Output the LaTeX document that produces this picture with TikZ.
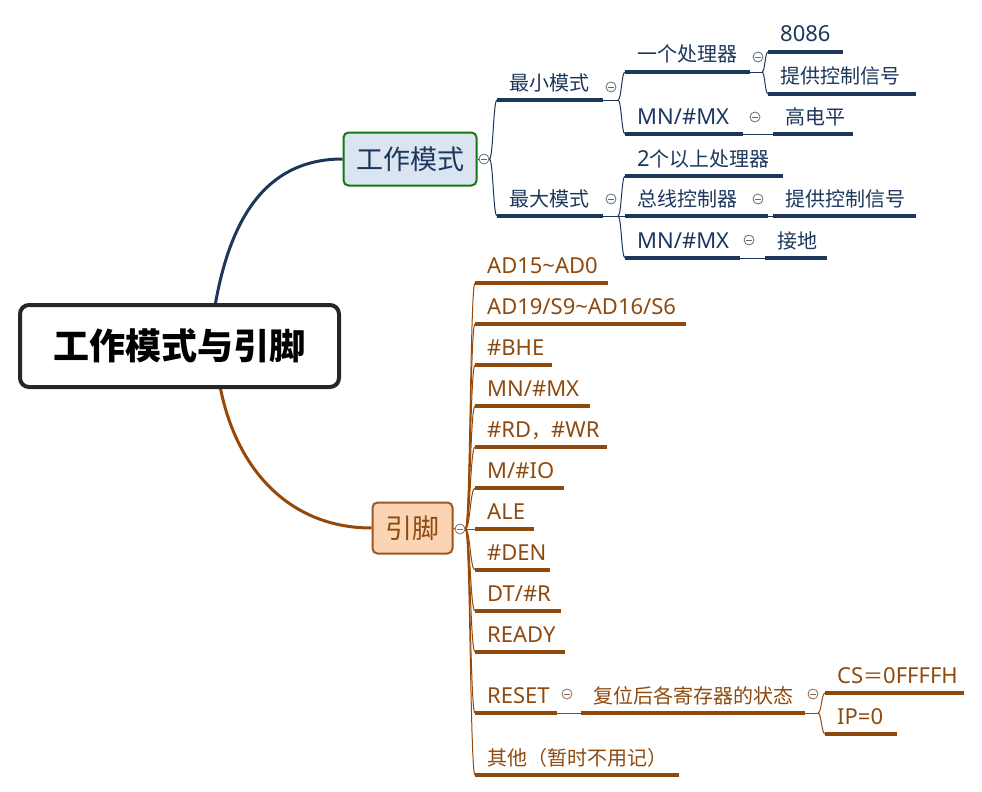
\documentclass[tikz,border=0pt]{standalone}
\usepackage{fontspec}
\setmainfont{Noto Sans}[Scale=1.1]
\newfontfamily\cjk{Noto Sans CJK SC}
\usetikzlibrary{calc,backgrounds}
\definecolor{navy}{HTML}{1C365C}
\definecolor{brn}{HTML}{974806}
\definecolor{brntxt}{HTML}{8E4A0E}
\definecolor{modefill}{HTML}{DBE5F1}
\definecolor{modeedge}{HTML}{117A11}
\definecolor{pinfill}{HTML}{FBD4B4}
\definecolor{pinedge}{HTML}{A0561E}
\definecolor{rootedge}{HTML}{262626}
\definecolor{mgray}{HTML}{5F6B78}
\definecolor{bgray}{HTML}{8A6A55}
\tikzset{
  ul/.style={line width=3.2pt},
  thinl/.style={line width=1pt},
  lbl/.style={anchor=base west, inner sep=0pt, font=\fontsize{20}{20}\selectfont},
  mn/.style={circle, draw=#1, line width=0.8pt, minimum size=10pt, inner sep=0pt, fill=white,
    path picture={\draw[line width=0.8pt, #1] ([xshift=-2.8pt]path picture bounding box.center) -- ([xshift=2.8pt]path picture bounding box.center);}},
  mn/.default=mgray,
  rootbox/.style={draw=rootedge, line width=4pt, rounded corners=9pt, fill=white,
    minimum width=319pt, minimum height=82pt, inner sep=0pt, font=\fontsize{36}{36}\selectfont\cjk\bfseries},
  topbox/.style={line width=2pt, rounded corners=5pt, inner sep=0pt, font=\fontsize{27}{27}\selectfont\cjk}
}
% name, x1, x2, y, colour, text
\newcommand\topic[6]{%
  \coordinate (#1-l) at (#2,#4);
  \coordinate (#1-r) at (#3,#4);
  \draw[ul,draw=#5] (#1-l) -- (#1-r);
  \node[lbl,text=#5] (#1) at (#2+12,#4-10) {#6};%
}
% bracket curve from, to, colour
\newcommand\brk[3]{%
  \draw[thinl,draw=#3] (#1) .. controls ($(#1)!0.5!(#2 |- #1)$) and ($(#2)!0.5!(#1 |- #2)$) .. (#2);%
}
\begin{document}
\begin{tikzpicture}[x=1pt,y=-1pt]
\useasboundingbox (0,0) rectangle (982,792);

% main nodes
\node[rootbox] (root) at (179.5,346) {工作模式与引脚};
\node[topbox, draw=modeedge, fill=modefill, text=navy, minimum width=133pt, minimum height=53pt] (mode) at (410,159) {工作模式};
\node[topbox, draw=pinedge, fill=pinfill, text=brntxt, minimum width=80pt, minimum height=51pt] (pins) at (412.5,528) {引脚};

\coordinate (rt1) at (215,306);
\coordinate (rt2) at (220,386);
\begin{scope}[on background layer]
\draw[navy, line width=3pt] (rt1) .. controls (229,225) and (262,159) .. (mode.west);
\draw[brn, line width=3pt] (rt2) .. controls (236,470) and (290,528) .. (pins.west);
\end{scope}

% ---------- 工作模式 branch ----------
\node[mn] (mc) at (484,159) {};
\draw[thinl,navy] (mode.east) -- (mc.west);

\topic{min}{497}{603}{100}{navy}{{\cjk 最小模式}}
\topic{max}{497}{603}{216}{navy}{{\cjk 最大模式}}
\node[mn] (minc) at (611,87) {};
\node[mn] (maxc) at (611,199) {};
\brk{mc.east}{min-l}{navy}
\brk{mc.east}{max-l}{navy}

\topic{p1}{625}{750}{72}{navy}{{\cjk 一个处理器}}
\topic{mn1}{625}{743}{134}{navy}{MN/\#MX}
\coordinate (min-j) at (618,100);
\draw[thinl,navy] (min-r) -- (min-j);
\brk{min-j}{p1-l}{navy}
\brk{min-j}{mn1-l}{navy}

\node[mn] (p1c) at (758,57) {};
\topic{n8086}{768}{843}{52}{navy}{8086}
\topic{sig1}{768}{916}{94}{navy}{{\cjk 提供控制信号}}
\coordinate (p1-j) at (762,72);
\draw[thinl,navy] (p1-r) -- (p1-j);
\brk{p1-j}{n8086-l}{navy}
\brk{p1-j}{sig1-l}{navy}

\node[mn] (mn1c) at (755,117) {};
\topic{hi}{773}{853}{134}{navy}{{\cjk 高电平}}
\draw[thinl,navy] (mn1-r) -- (hi-l);

\topic{p2}{625}{783}{176}{navy}{2{\cjk 个以上处理器}}
\topic{bus}{625}{768}{216}{navy}{{\cjk 总线控制器}}
\topic{mn2}{625}{740}{258}{navy}{MN/\#MX}
\coordinate (max-j) at (618,216);
\draw[thinl,navy] (max-r) -- (max-j);
\brk{max-j}{p2-l}{navy}
\draw[thinl,navy] (max-j) -- (bus-l);
\brk{max-j}{mn2-l}{navy}

\node[mn] (busc) at (758,199) {};
\topic{sig2}{773}{916}{216}{navy}{{\cjk 提供控制信号}}
\draw[thinl,navy] (bus-r) -- (sig2-l);

\node[mn] (mn2c) at (749,240) {};
\topic{gnd}{765}{827}{258}{navy}{{\cjk 接地}}
\draw[thinl,navy] (mn2-r) -- (gnd-l);

% ---------- 引脚 branch ----------
\node[mn=bgray] (pc) at (460,529) {};
\draw[thinl,brn] (pins.east) -- (pc.west);

\topic{i1}{475}{608}{283}{brntxt}{AD15\textasciitilde AD0}
\topic{i2}{475}{686}{324}{brntxt}{AD19/S9\textasciitilde AD16/S6}
\topic{i3}{475}{552}{365}{brntxt}{\#BHE}
\topic{i4}{475}{590}{406}{brntxt}{MN/\#MX}
\topic{i5}{475}{607}{447}{brntxt}{\#RD{\cjk ，}\#WR}
\topic{i6}{475}{564}{488}{brntxt}{M/\#IO}
\topic{i7}{475}{534}{529}{brntxt}{ALE}
\topic{i8}{475}{550}{570}{brntxt}{\#DEN}
\topic{i9}{475}{561}{611}{brntxt}{DT/\#R}
\topic{i10}{475}{565}{652}{brntxt}{READY}
\topic{i11}{475}{557}{713}{brntxt}{RESET}
\topic{i12}{475}{679}{775}{brntxt}{{\cjk 其他（暂时不用记）}}
\foreach \k in {1,2,3,4,5,6,8,9,10,11,12}{\brk{pc.east}{i\k-l}{brn}}
\draw[thinl,brn] (pc.east) -- (i7-l);

\node[mn=bgray] (rc) at (567,694) {};
\topic{rst}{581}{805}{713}{brntxt}{{\cjk 复位后各寄存器的状态}}
\draw[thinl,brn] (i11-r) -- (rst-l);

\node[mn=bgray] (rstc) at (813,694) {};
\topic{cs}{825}{964}{693}{brntxt}{CS{\cjk ＝}0FFFFH}
\topic{ip}{825}{897}{734}{brntxt}{IP=0}
\coordinate (rst-j) at (818,713);
\draw[thinl,brn] (rst-r) -- (rst-j);
\brk{rst-j}{cs-l}{brn}
\brk{rst-j}{ip-l}{brn}
\end{tikzpicture}
\end{document}
